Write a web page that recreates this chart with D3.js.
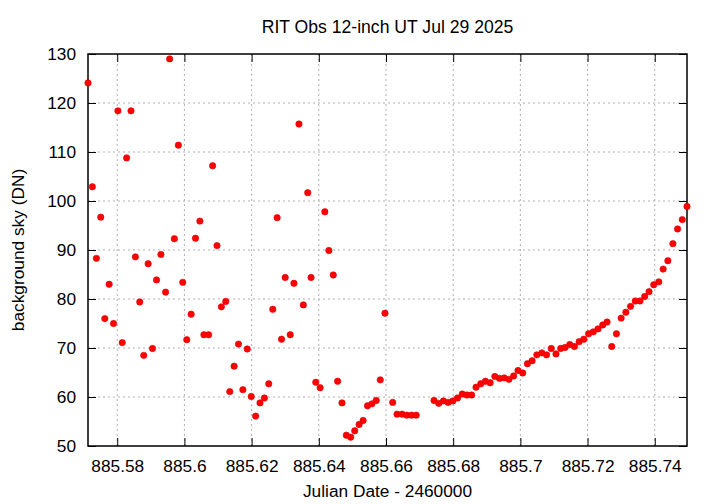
<!DOCTYPE html>
<html>
<head>
<meta charset="utf-8">
<script src="https://cdn.jsdelivr.net/npm/d3@7"></script>
<style>
  body { margin: 0; background: #fff; }
  text { font-family: "Liberation Sans", Arial, sans-serif; fill: #000; }
</style>
</head>
<body>
<svg id="chart" width="720" height="504"></svg>
<script>
const title = "RIT Obs 12-inch UT Jul 29 2025";
const xLabel = "Julian Date - 2460000";
const yLabel = "background sky (DN)";
const xTicks = [885.58, 885.60, 885.62, 885.64, 885.66, 885.68, 885.70, 885.72, 885.74];
const xTickLabels = ["885.58", "885.6", "885.62", "885.64", "885.66", "885.68", "885.7", "885.72", "885.74"];
const yTicks = [50, 60, 70, 80, 90, 100, 110, 120, 130];

const jd = [
  885.5713, 885.5726, 885.5738, 885.5751, 885.5763, 885.5776, 885.5789, 885.5802, 885.5815, 885.5828,
  885.5841, 885.5854, 885.5867, 885.5879, 885.5892, 885.5905, 885.5917, 885.5930, 885.5944, 885.5956,
  885.5970, 885.5982, 885.5995, 885.6007, 885.6020, 885.6033, 885.6046, 885.6058, 885.6072, 885.6084,
  885.6097, 885.6110, 885.6123, 885.6135, 885.6148, 885.6161, 885.6174, 885.6187, 885.6199, 885.6212,
  885.6225, 885.6238, 885.6251, 885.6263, 885.6276, 885.6289, 885.6300, 885.6315, 885.6326, 885.6341,
  885.6354, 885.6367, 885.6377, 885.6391, 885.6404, 885.6418, 885.6430, 885.6443, 885.6456, 885.6469,
  885.6482, 885.6495, 885.6507, 885.6520, 885.6532, 885.6545, 885.6558, 885.6571, 885.6583, 885.6597,
  885.6620, 885.6633, 885.6648, 885.6662, 885.6676, 885.6690,
  885.6743, 885.6757, 885.6771, 885.6785, 885.6799, 885.6813, 885.6827, 885.6841, 885.6855, 885.6868,
  885.6882, 885.6896, 885.6910, 885.6924, 885.6938, 885.6952, 885.6966, 885.6980, 885.6993, 885.7007,
  885.7021, 885.7035, 885.7049, 885.7064, 885.7078, 885.7092, 885.7106, 885.7120, 885.7133, 885.7147,
  885.7161, 885.7175, 885.7189, 885.7203, 885.7217, 885.7231, 885.7245, 885.7258, 885.7272, 885.7286,
  885.7300, 885.7314, 885.7328, 885.7342, 885.7356, 885.7370, 885.7383, 885.7397, 885.7412, 885.7425,
  885.7439, 885.7454, 885.7468, 885.7482, 885.7496
];
const sky = [
  124.1, 102.9, 88.3, 96.7, 76.0, 83.0, 75.0, 118.4, 71.1, 108.8,
  118.4, 88.6, 79.4, 68.5, 87.2, 69.9, 83.9, 89.1, 81.4, 129.0,
  92.3, 111.4, 83.4, 71.7, 76.9, 92.4, 95.9, 72.7, 72.7, 107.2,
  90.9, 78.4, 79.5, 61.1, 66.3, 70.8, 61.5, 69.8, 60.1, 56.1,
  58.8, 59.8, 62.7, 77.9, 96.6, 71.8, 84.4, 72.7, 83.2, 115.7,
  78.8, 101.7, 84.4, 63.0, 61.9, 97.8, 89.9, 84.9, 63.2, 58.8,
  52.2, 51.8, 53.1, 54.4, 55.2, 58.2, 58.6, 59.3, 63.5, 77.1,
  58.9, 56.5, 56.5, 56.3, 56.3, 56.3,
  59.3, 58.7, 59.2, 58.9, 59.2, 59.8, 60.6, 60.4, 60.4, 62.0,
  62.7, 63.2, 62.9, 64.2, 63.8, 63.9, 63.6, 64.3, 65.4, 64.9,
  66.8, 67.4, 68.6, 69.0, 68.6, 69.9, 68.8, 69.9, 70.1, 70.7,
  70.3, 71.3, 71.8, 72.9, 73.3, 73.9, 74.7, 75.3, 70.3, 72.9,
  76.1, 77.3, 78.5, 79.6, 79.6, 80.5, 81.5, 82.9, 83.5, 86.1,
  87.8, 91.3, 94.3, 96.2, 98.9
];

const svg = d3.select("#chart");
const L = 88, R = 687, T = 54, B = 446;
const FS = "17.3px";

const x = d3.scaleLinear().domain([885.5713, 885.7496]).range([L, R]);
const y = d3.scaleLinear().domain([50, 130]).range([B, T]);

// grid
const grid = svg.append("g");
grid.selectAll("line.gx").data(xTicks).enter().append("line")
  .attr("x1", d => x(d)).attr("x2", d => x(d)).attr("y1", T).attr("y2", B)
  .attr("stroke", "#b0b0b0").attr("stroke-width", 1).attr("stroke-dasharray", "2,3");
grid.selectAll("line.gy").data(yTicks.slice(1, -1)).enter().append("line")
  .attr("x1", L).attr("x2", R).attr("y1", d => y(d)).attr("y2", d => y(d))
  .attr("stroke", "#b0b0b0").attr("stroke-width", 1).attr("stroke-dasharray", "2,3");

// axes (ticks inward, mirrored)
const tickLen = 8;
const fmtX = d => xTickLabels[xTicks.indexOf(d)];
const xb = svg.append("g").attr("transform", `translate(0,${B})`)
  .call(d3.axisBottom(x).tickValues(xTicks).tickFormat(fmtX).tickSizeInner(-tickLen).tickSizeOuter(0).tickPadding(16));
const xt = svg.append("g").attr("transform", `translate(0,${T})`)
  .call(d3.axisTop(x).tickValues(xTicks).tickFormat("").tickSizeInner(-tickLen).tickSizeOuter(0));
const yl = svg.append("g").attr("transform", `translate(${L},0)`)
  .call(d3.axisLeft(y).tickValues(yTicks).tickSizeInner(-tickLen).tickSizeOuter(0).tickPadding(16));
const yr = svg.append("g").attr("transform", `translate(${R},0)`)
  .call(d3.axisRight(y).tickValues(yTicks).tickFormat("").tickSizeInner(-tickLen).tickSizeOuter(0));
[xb, xt, yl, yr].forEach(g => {
  g.select(".domain").remove();
  g.selectAll(".tick line").attr("stroke", "#000").attr("stroke-width", 1);
  g.selectAll("text").style("font-size", FS).attr("fill", "#000")
    .style("font-family", "'Liberation Sans', Arial, sans-serif");
});
xb.selectAll("text").attr("dy", "0.71em").attr("y", 14);
yl.selectAll("text").attr("x", -12);

// border
svg.append("rect").attr("x", L).attr("y", T).attr("width", R - L).attr("height", B - T)
  .attr("fill", "none").attr("stroke", "#000").attr("stroke-width", 1.5);

// points
const data = jd.map((d, i) => ({ x: d, y: sky[i] }));
svg.append("g").selectAll("circle").data(data).enter().append("circle")
  .attr("cx", d => x(d.x)).attr("cy", d => y(d.y)).attr("r", 3.2)
  .attr("fill", "#ff0000").attr("stroke", "#e00000").attr("stroke-width", 0.6);

// labels
svg.append("text").attr("x", (L + R) / 2).attr("y", 33).attr("text-anchor", "middle")
  .style("font-size", "17.6px").text(title);
svg.append("text").attr("x", (L + R) / 2).attr("y", 497).attr("text-anchor", "middle")
  .style("font-size", FS).text(xLabel);
svg.append("text").attr("transform", `translate(24,${(T + B) / 2}) rotate(-90)`)
  .attr("text-anchor", "middle").style("font-size", FS).text(yLabel);
</script>
</body>
</html>
